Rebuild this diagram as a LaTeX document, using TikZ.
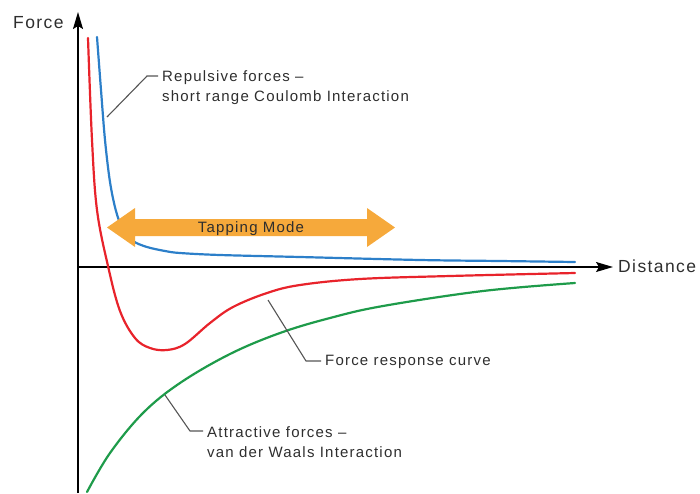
\documentclass[tikz,border=0pt]{standalone}
\usepackage{fontspec}
\newfontfamily\plotfont[LetterSpace=8]{Liberation Sans}
\usetikzlibrary{arrows.meta}

\definecolor{repblue}{HTML}{2C7FC9}
\definecolor{respred}{HTML}{E8232B}
\definecolor{attgreen}{HTML}{1E9B4A}
\definecolor{taporange}{HTML}{F6A93B}
\definecolor{labelgray}{HTML}{2E2E2E}
\definecolor{leadergray}{HTML}{555555}

\tikzset{
  axis/.style={line width=1.3pt, -{Stealth[length=17pt,width=10pt,inset=3pt]}},
  curve/.style={line width=2.2pt, line cap=round},
  leader/.style={line width=1.1pt, leadergray},
  lbl/.style={font=\plotfont\fontsize{15}{20}\selectfont, text=labelgray, inner sep=0pt, align=left, anchor=base west},
  axislbl/.style={font=\plotfont\fontsize{17.5}{20}\selectfont, text=labelgray, inner sep=0pt, anchor=base west},
}

\begin{document}
\begin{tikzpicture}[x=1pt,y=-1pt]
\useasboundingbox (0,0) rectangle (700,493);

% axes
\coordinate (origin) at (78,267);
\coordinate (ytop) at (78,12);
\coordinate (ybot) at (78,493);
\coordinate (xend) at (613,267);
\draw[axis] (origin) -- (xend);
\draw[axis] (ybot) -- (ytop);
\node[axislbl] (forceLabel) at (13,28) {Force};
\node[axislbl] (distLabel) at (618,272) {Distance};

% repulsive part
\draw[curve, repblue] plot[smooth, tension=0.55] coordinates {
  (97,37) (101,90) (105,140) (110,182) (116,211) (123,230) (133,241) (147,247)
  (165,251) (180,253) (220,255) (300,257) (420,260) (500,261) (575,262)};

% attractive part
\draw[curve, attgreen] plot[smooth, tension=0.6] coordinates {
  (87,492) (110,453) (143,413) (180,383) (230,354) (280,333) (330,318) (383,306)
  (483,291) (575,283)};

% sum of both
\draw[curve, respred] plot[smooth, tension=0.6] coordinates {
  (88,38) (92,140) (97,210) (108,266) (120,311) (135,338) (150,348) (167,350)
  (185,344) (210,323) (233,307) (267,293) (300,285) (360,279) (450,276) (575,273)};

% tapping mode range
\fill[taporange] (107,227.5) -- (135,208) -- (135,219) -- (367,219) -- (367,208)
  -- (395,227.5) -- (367,247) -- (367,236) -- (135,236) -- (135,247) -- cycle;
\node[lbl, anchor=base] (tapLabel) at (251,232) {Tapping Mode};

% labels with leaders
\node[lbl] (repLabel) at (162,101) {Repulsive forces –\\short range Coulomb Interaction};
\coordinate (repTip) at (107,117);
\coordinate (repBend) at (147,76);
\coordinate (repEnd) at (158,76);
\draw[leader] (repTip) -- (repBend) -- (repEnd);

\node[lbl] (respLabel) at (325,365) {Force response curve};
\coordinate (respTip) at (268,300);
\coordinate (respBend) at (306,361);
\coordinate (respEnd) at (321,361);
\draw[leader] (respTip) -- (respBend) -- (respEnd);

\node[lbl] (attLabel) at (207,457) {Attractive forces –\\van der Waals Interaction};
\coordinate (attTip) at (165,395);
\coordinate (attBend) at (190,431);
\coordinate (attEnd) at (203,431);
\draw[leader] (attTip) -- (attBend) -- (attEnd);
\end{tikzpicture}
\end{document}
